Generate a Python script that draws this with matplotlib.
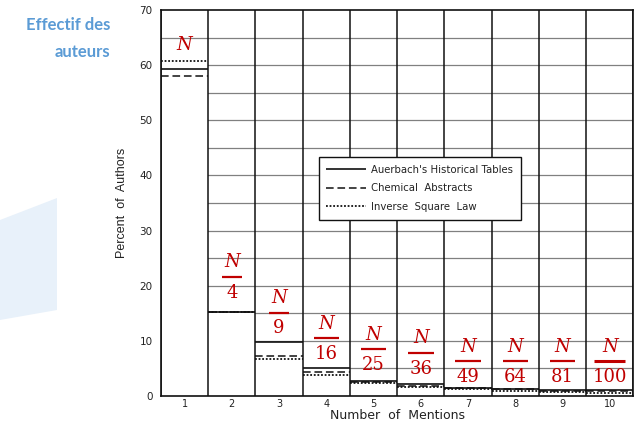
import matplotlib
matplotlib.use("Agg")
import matplotlib.pyplot as plt
from matplotlib.patches import Polygon
import numpy as np

# ---- data ----
mentions = [1, 2, 3, 4, 5, 6, 7, 8, 9, 10]
auerbach = [59.3, 15.3, 9.8, 5.0, 2.7, 2.1, 1.5, 1.3, 1.0, 1.0]
chem_abstracts = [58.0, 15.3, 7.2, 4.4, 2.6, 1.9, 1.4, 1.2, 0.9, 0.9]
inverse_square = [60.8, 15.2, 6.8, 3.8, 2.4, 1.7, 1.2, 0.95, 0.75, 0.61]
denominators = ["", "4", "9", "16", "25", "36", "49", "64", "81", "100"]
series_labels = ["Auerbach's Historical Tables", "Chemical  Abstracts", "Inverse  Square  Law"]
yticks = [0, 10, 20, 30, 40, 50, 60, 70]

# ---- layout for red annotations (fraction bar y positions, data units) ----
frac_y = [63.6, 21.6, 15.1, 10.5, 8.5, 7.8, 6.3, 6.3, 6.3, 6.3]

W, H = 634, 423
fig = plt.figure(figsize=(W / 100, H / 100), dpi=100)
fig.patch.set_facecolor("white")

# decorative light blue shape on the left
poly = Polygon([(0, 1 - 220 / H), (57 / W, 1 - 198 / H), (57 / W, 1 - 310 / H), (0, 1 - 320 / H)],
               closed=True, transform=fig.transFigure, facecolor="#e8f1fa", edgecolor="none")
fig.patches.append(poly)

blue = "#5b9bd5"
fig.text(110 / W, 1 - 25 / H, "Effectif des", ha="right", va="center", color=blue,
         fontsize=12, fontweight="bold", family="Lato")
fig.text(110 / W, 1 - 52 / H, "auteurs", ha="right", va="center", color=blue,
         fontsize=12, fontweight="bold", family="Lato")

left, right, bottom, top = 161 / W, 0.999, 1 - 396 / H, 1 - 10 / H
ax = fig.add_axes([left, bottom, right - left, top - bottom])
ax.set_xlim(0.5, 10.5)
ax.set_ylim(0, 70)

x = np.array(mentions)
# horizontal grid lines every 5
for yv in np.arange(5, 70, 5):
    ax.axhline(yv, color="#808080", lw=0.9, zorder=1)

# white bars covering the grid
tops = np.maximum.reduce([auerbach, chem_abstracts, inverse_square])
ax.bar(x, tops, width=1.0, color="white", edgecolor="none", zorder=2)

# vertical bin boundaries
for xv in np.arange(0.5, 11, 1.0):
    ax.axvline(xv, color="#111111", lw=1.1, zorder=3)

h1 = ax.hlines(auerbach, x - 0.5, x + 0.5, colors="#111111", lw=1.2, linestyles="solid", zorder=4)
h2 = ax.hlines(chem_abstracts, x - 0.5, x + 0.5, colors="#111111", lw=1.1,
               linestyles=(0, (5, 2.5)), zorder=4)
h3 = ax.hlines(inverse_square, x - 0.5, x + 0.5, colors="#111111", lw=1.3,
               linestyles=(0, (1, 1)), zorder=4)

for s in ax.spines.values():
    s.set_color("#111111")
    s.set_linewidth(1.2)
    s.set_zorder(5)

ax.set_xticks(mentions)
ax.set_xticklabels([str(m) for m in mentions], fontsize=7, color="#222222", family="DejaVu Sans")
ax.set_yticks(yticks)
ax.set_yticklabels([str(v) for v in yticks], fontsize=7.5, color="#222222", family="DejaVu Sans")
ax.tick_params(axis="both", length=0)
ax.tick_params(axis="x", pad=2)
ax.tick_params(axis="y", pad=6)
ax.set_xlabel("Number  of  Mentions", fontsize=9, color="#222222", family="DejaVu Sans", labelpad=0)
ax.set_ylabel("Percent  of  Authors", fontsize=9, color="#222222", family="Liberation Sans", labelpad=8)

leg = ax.legend([h1, h2, h3], series_labels, loc="upper left", bbox_to_anchor=(0.334, 0.619),
                borderaxespad=0, fontsize=7.3, handlelength=3.9, labelspacing=0.85,
                fancybox=False, framealpha=1, edgecolor="#111111", borderpad=0.75, handletextpad=0.5)
leg.get_frame().set_linewidth(1.0)
leg.set_zorder(6)
for t in leg.get_texts():
    t.set_color("#222222")

# red annotations N/k^2
red = "#c00000"
for k, den, fy in zip(mentions, denominators, frac_y):
    if den == "":
        ax.text(k, fy, "N", color=red, fontsize=13, style="italic", family="DejaVu Serif",
                ha="center", va="center", zorder=7)
        continue
    ax.text(k, fy + 1.0, "N", color=red, fontsize=13, style="italic", family="DejaVu Serif",
            ha="center", va="bottom", zorder=7)
    ax.text(k, fy - 1.2, den, color=red, fontsize=13, family="DejaVu Serif",
            ha="center", va="top", zorder=7)
    half = 0.15 + 0.06 * len(den)
    ax.plot([k - half, k + half], [fy, fy], color=red, lw=2.2 if len(den) == 3 else 1.6,
            solid_capstyle="butt", zorder=7)

fig.savefig("out.png", dpi=100)
